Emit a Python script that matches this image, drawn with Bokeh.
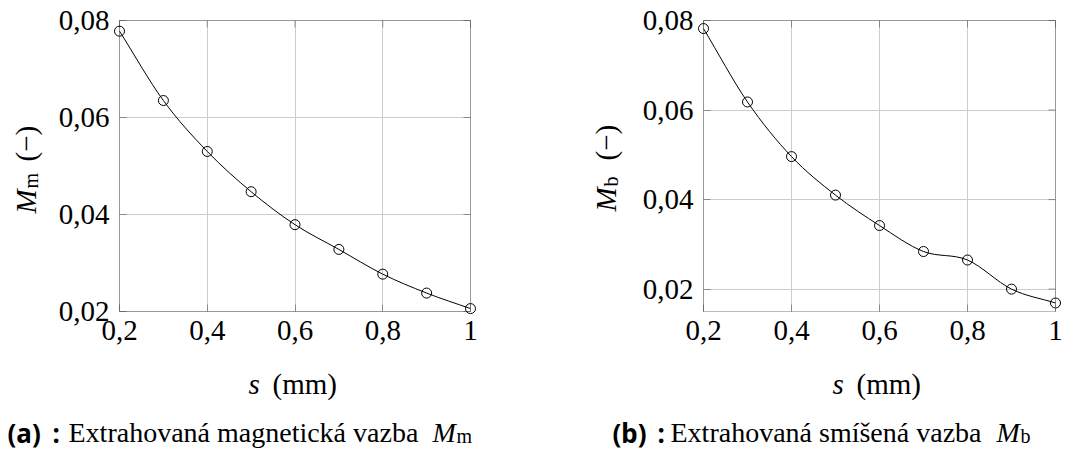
import numpy as np
from bokeh.plotting import figure
from bokeh.models import (FixedTicker, LinearAxis, Label, Range1d, Grid,
                          BoxAnnotation)
from bokeh.embed import file_html
from bokeh.resources import INLINE

# gap width s (mm)
s_mm = [0.2, 0.3, 0.4, 0.5, 0.6, 0.7, 0.8, 0.9, 1.0]
# extracted magnetic coupling M_m (-)
coupling_m = [0.0778, 0.0635, 0.0530, 0.0447, 0.0379, 0.0328, 0.0277, 0.0238, 0.0206]
# extracted mixed coupling M_b (-)
coupling_b = [0.0782, 0.0618, 0.0496, 0.0410, 0.0342, 0.0284, 0.0265, 0.0200, 0.0169]

x_ticks = [0.2, 0.4, 0.6, 0.8, 1.0]
x_tick_labels = ["0,2", "0,4", "0,6", "0,8", "1"]
y_ticks = [0.02, 0.04, 0.06, 0.08]
y_tick_labels = ["0,02", "0,04", "0,06", "0,08"]

W, H = 1065, 450
SERIF = "Liberation Serif"
SANS = "Noto Sans"
TICK_SIZE = "29px"
LABEL_SIZE = "29px"
SUB_SIZE = "20px"
CAP_SIZE = "28px"
CAP_SUB = "20px"
TAG_SIZE = "26px"
TICK_PX = 7
GRID_COLOR = "#cccccc"
TICK_COLOR = "#8a8a8a"

# one canvas-wide frame; the default ranges are canvas pixels (y upwards)
p = figure(width=W, height=H, output_backend="svg", toolbar_location=None,
           x_range=Range1d(0, W), y_range=Range1d(0, H),
           x_axis_location=None, y_axis_location=None,
           min_border=0, background_fill_color="white", border_fill_color="white")
p.outline_line_color = None
for g in p.grid:
    g.visible = False


def smooth_controls(x, y):
    """Catmull-Rom style Bezier handles for a smooth curve through the points."""
    x = np.asarray(x, float)
    y = np.asarray(y, float)
    n = len(x)
    mx = np.empty(n)
    my = np.empty(n)
    mx[1:-1] = (x[2:] - x[:-2]) / 2
    my[1:-1] = (y[2:] - y[:-2]) / 2
    mx[0], my[0] = x[1] - x[0], y[1] - y[0]
    mx[-1], my[-1] = x[-1] - x[-2], y[-1] - y[-2]
    return dict(
        x0=x[:-1], y0=y[:-1], x1=x[1:], y1=y[1:],
        cx0=x[:-1] + mx[:-1] / 3, cy0=y[:-1] + my[:-1] / 3,
        cx1=x[1:] - mx[1:] / 3, cy1=y[1:] - my[1:] / 3,
    )


def txt(x, y, text, size, font=SERIF, style="normal", angle=0.0):
    """Text placed in canvas pixels, measured from the top-left corner."""
    p.add_layout(Label(x=x, y=H - y, text=text, text_font=font,
                       text_font_size=size, text_font_style=style,
                       text_color="black", text_align="left",
                       text_baseline="alphabetic", angle=angle))


def span_range(lo, hi, a, b, total):
    """Range over the whole canvas such that [lo, hi] lands on pixels a..b."""
    k = (b - a) / (hi - lo)
    return Range1d(lo - a / k, hi + (total - b) / k)


def panel(name, values, ylim, box):
    left, top, right, bottom = box           # plot box in canvas pixels
    xlo, xhi = x_ticks[0], x_ticks[-1]
    ylo, yhi = ylim
    p.extra_x_ranges[name] = span_range(xlo, xhi, left, right, W)
    p.extra_y_ranges[name] = span_range(ylo, yhi, H - bottom, H - top, H)
    kx = (right - left) / (xhi - xlo)
    ky = (bottom - top) / (yhi - ylo)
    rn = dict(x_range_name=name, y_range_name=name)
    yt = [t for t in y_ticks if ylo <= t <= yhi]

    # grid lines limited to the plot box
    if "cross_bounds" in Grid.properties():
        p.add_layout(Grid(dimension=0, ticker=FixedTicker(ticks=x_ticks),
                          bounds=(xlo, xhi), cross_bounds=(ylo, yhi),
                          grid_line_color=GRID_COLOR, **rn), "center")
        p.add_layout(Grid(dimension=1, ticker=FixedTicker(ticks=y_ticks),
                          bounds=(ylo, yhi), cross_bounds=(xlo, xhi),
                          grid_line_color=GRID_COLOR, **rn), "center")
    else:
        p.segment(x0=x_ticks, y0=[ylo] * len(x_ticks), x1=x_ticks,
                  y1=[yhi] * len(x_ticks), line_color=GRID_COLOR, level="underlay", **rn)
        p.segment(x0=[xlo] * len(yt), y0=yt, x1=[xhi] * len(yt), y1=yt,
                  line_color=GRID_COLOR, level="underlay", **rn)

    # tick marks mirrored on the top and right edges
    p.segment(x0=x_ticks, y0=[yhi] * len(x_ticks), x1=x_ticks,
              y1=[yhi - TICK_PX / ky] * len(x_ticks), line_color=TICK_COLOR, **rn)
    p.segment(x0=[xhi] * len(yt), y0=yt, x1=[xhi - TICK_PX / kx] * len(yt), y1=yt,
              line_color=TICK_COLOR, **rn)

    # labelled axes along the bottom and left edges of the box
    xa = LinearAxis(ticker=FixedTicker(ticks=x_ticks), fixed_location=ylo, **rn)
    ya = LinearAxis(ticker=FixedTicker(ticks=y_ticks), fixed_location=xlo, **rn)
    for ax in (xa, ya):
        ax.axis_line_color = None
        ax.major_tick_in = TICK_PX
        ax.major_tick_out = 0
        ax.minor_tick_line_color = None
        ax.major_tick_line_color = TICK_COLOR
        ax.major_label_text_font = SERIF
        ax.major_label_text_font_size = TICK_SIZE
        ax.major_label_text_color = "black"
    xa.major_label_overrides = dict(zip(x_ticks, x_tick_labels))
    ya.major_label_overrides = dict(zip(y_ticks, y_tick_labels))
    xa.major_label_standoff = 9
    ya.major_label_standoff = 10
    p.add_layout(xa, "below")
    p.add_layout(ya, "left")

    p.bezier(source=smooth_controls(s_mm, values), x0="x0", y0="y0", x1="x1", y1="y1",
             cx0="cx0", cy0="cy0", cx1="cx1", cy1="cy1", line_color="black",
             line_width=1, **rn)
    p.scatter(s_mm, values, marker="circle", size=10, fill_color=None,
              line_color="black", line_width=1, **rn)

    # frame around the plot box
    p.add_layout(BoxAnnotation(left=xlo, right=xhi, bottom=ylo, top=yhi,
                               fill_color=None, line_color="#222222",
                               line_width=1, **rn))


panel("a", coupling_m, (0.02, 0.08), (119, 20, 470, 311))
panel("b", coupling_b, (0.015, 0.08), (703, 20, 1055, 311))

ang = np.pi / 2
# axis titles, panel (a)
txt(248, 383, "s", LABEL_SIZE, style="italic")
txt(272, 383, "(mm)", LABEL_SIZE)
txt(25, 213, "M", LABEL_SIZE, style="italic", angle=ang)
txt(30, 188, "m", SUB_SIZE, angle=ang)
txt(25, 161, "(\u2212)", LABEL_SIZE, angle=ang)
# axis titles, panel (b)
txt(832, 383, "s", LABEL_SIZE, style="italic")
txt(856, 383, "(mm)", LABEL_SIZE)
txt(605, 211, "M", LABEL_SIZE, style="italic", angle=ang)
txt(610, 186, "b", SUB_SIZE, angle=ang)
txt(605, 160, "(\u2212)", LABEL_SIZE, angle=ang)

# captions
txt(7, 432, "(a)", TAG_SIZE, font=SANS, style="bold")
txt(52, 432, ":", TAG_SIZE, font=SANS, style="bold")
txt(68, 432, "Extrahovaná magnetická vazba", CAP_SIZE)
txt(432, 432, "M", CAP_SIZE, style="italic")
txt(456, 435, "m", CAP_SUB)

txt(612, 432, "(b)", TAG_SIZE, font=SANS, style="bold")
txt(657, 432, ":", TAG_SIZE, font=SANS, style="bold")
txt(670, 432, "Extrahovaná smíšená vazba", CAP_SIZE)
txt(996, 432, "M", CAP_SIZE, style="italic")
txt(1020, 435, "b", CAP_SUB)

open("out.html", "w").write(file_html(p, INLINE))
